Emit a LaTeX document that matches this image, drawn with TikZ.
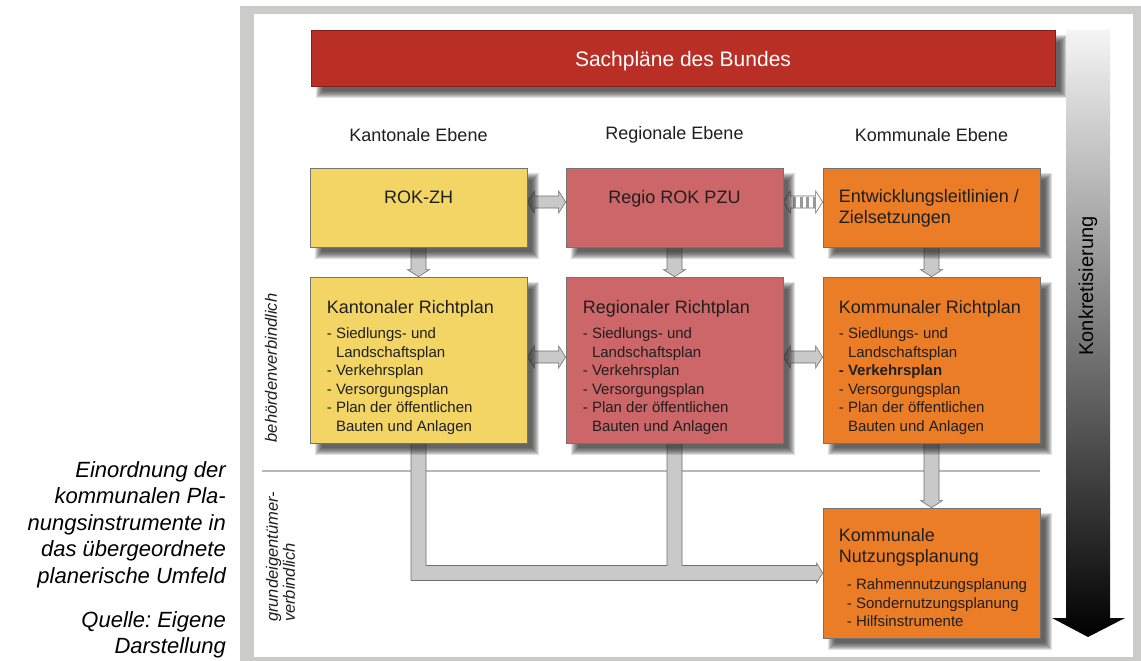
\documentclass[tikz,border=0pt]{standalone}
\usepackage{fontspec}
\setmainfont{Liberation Sans}
\frenchspacing
\usetikzlibrary{calc}
\definecolor{framegray}{HTML}{CBCBC9}
\definecolor{kyellow}{HTML}{F3D566}
\definecolor{kred}{HTML}{CC6668}
\definecolor{korange}{HTML}{EB7D26}
\definecolor{barred}{HTML}{B92E25}
\definecolor{agray}{HTML}{C9C9C9}
\definecolor{aline}{HTML}{6F6F6F}
\pgfdeclarelayer{back}
\pgfdeclarelayer{bg}
\pgfdeclarelayer{shad}
\pgfsetlayers{back,bg,shad,main}
\tikzset{
 box/.style={draw=black!55, line width=0.7pt, minimum width=217pt, inner sep=0pt},
 garrow/.style={fill=agray, draw=aline, line width=0.6pt, line join=miter},
 warrow/.style={fill=white, draw=aline, line width=0.6pt, line join=miter},
 shadowpiece/.style={fill=black!85, opacity=0.14},
 lbl/.style={inner sep=0pt, text=black!88},
 head/.style={lbl, font=\fontsize{18}{22}\selectfont},
 ttl/.style={lbl, font=\fontsize{18}{21}\selectfont, align=left},
 items/.style={lbl, font=\fontsize{15}{18.5}\selectfont, align=left},
}
\newcommand{\myvblock}[2]{%
 \path[garrow] let \p1=(#1.south), \p2=(#2.north) in
  (\x1-7.5pt,\y1) -- (\x1-7.5pt,\y2+7pt) -- (\x1-11pt,\y2+7pt) -- (\x1,\y2)
  -- (\x1+11pt,\y2+7pt) -- (\x1+7.5pt,\y2+7pt) -- (\x1+7.5pt,\y1) -- cycle;}
\newcommand{\myhblock}[4]{%
 \path[#4] let \p1=($(#1.east)+(0,#3)$), \p2=(#2.west) in
  (\x1,\y1) -- (\x1+7pt,\y1+11pt) -- (\x1+7pt,\y1+6pt) -- (\x2-7pt,\y1+6pt)
  -- (\x2-7pt,\y1+11pt) -- (\x2,\y1) -- (\x2-7pt,\y1-11pt) -- (\x2-7pt,\y1-6pt)
  -- (\x1+7pt,\y1-6pt) -- (\x1+7pt,\y1-11pt) -- cycle;}
\newcommand{\myshadow}[1]{%
 \foreach \r in {0,1,...,7}{%
  \fill[shadowpiece] let \p1=(#1.south west), \p2=(#1.north east) in
   (\x1+12pt-\r*1pt, \y1-5pt-\r*1pt) rectangle (\x2+5pt+\r*1pt, \y2-12pt+\r*1pt);
 }}
\begin{document}
\begin{tikzpicture}[x=1pt,y=-1pt]
\useasboundingbox (0,0) rectangle (1141,661);
\begin{pgfonlayer}{back}
\fill[framegray] (240,6) rectangle (1141,661);
\fill[white] (254,14) rectangle (1133,657);
\draw[black!28, line width=1.3pt] (262,471) -- (1040,471);
\end{pgfonlayer}

% top bar
\node[box, draw=barred!70!black, fill=barred, minimum width=744pt, minimum height=56pt] (bund) at (683,58) {};
\node[lbl, text=white, font=\fontsize{21}{25}\selectfont] (tbund) at ($(bund.center)+(0,3)$) {Sachpläne des Bundes};

% gradient arrow
\shade[top color=black!4, bottom color=black] (1066,30) -- (1110,30) -- (1110,618) -- (1125,618) -- (1088,637) -- (1052,618) -- (1066,618) -- cycle;
\node[lbl, text=black, rotate=90, font=\fontsize{20}{24}\selectfont] (konk) at (1088,286) {Konkretisierung};

% headings
\node[head] (hk) at (418.5,135) {Kantonale Ebene};
\node[head] (hr) at (674.5,135) {Regionale Ebene};
\node[head] (hc) at (931.5,135) {Kommunale Ebene};

% boxes
\node[box, fill=kyellow, minimum height=79pt] (rokzh) at (418.5,207.5) {};
\node[box, fill=kred, minimum height=79pt] (regio) at (674.5,207.5) {};
\node[box, fill=korange, minimum height=79pt] (entw) at (931.5,207.5) {};
\node[box, fill=kyellow, minimum height=166pt] (krp) at (418.5,360) {};
\node[box, fill=kred, minimum height=166pt] (rrp) at (674.5,360) {};
\node[box, fill=korange, minimum height=166pt] (kommrp) at (931.5,360) {};
\node[box, fill=korange, minimum height=130pt] (nutz) at (931.5,573) {};

% box texts
\node[head, anchor=base] (trokzh) at ($(rokzh.north)+(0,36)$) {ROK-ZH};
\node[head, anchor=base] (tregio) at ($(regio.north)+(0,36)$) {Regio ROK PZU};
\node[ttl, anchor=north west] (tentw) at ($(entw.north west)+(16,22)$) {Entwicklungsleitlinien /\\Zielsetzungen};

\node[head, anchor=base west] (tkrp) at ($(krp.north west)+(17,37)$) {Kantonaler Richtplan};
\node[items, anchor=north west] (ikrp) at ($(krp.north west)+(17,51)$) {- Siedlungs- und\\\phantom{-\ }Landschaftsplan\\- Verkehrsplan\\- Versorgungsplan\\- Plan der öffentlichen\\\phantom{-\ }Bauten und Anlagen};

\node[head, anchor=base west] (trrp) at ($(rrp.north west)+(17,37)$) {Regionaler Richtplan};
\node[items, anchor=north west] (irrp) at ($(rrp.north west)+(17,51)$) {- Siedlungs- und\\\phantom{-\ }Landschaftsplan\\- Verkehrsplan\\- Versorgungsplan\\- Plan der öffentlichen\\\phantom{-\ }Bauten und Anlagen};

\node[head, anchor=base west] (tkommrp) at ($(kommrp.north west)+(16,37)$) {Kommunaler Richtplan};
\node[items, anchor=north west] (ikommrp) at ($(kommrp.north west)+(16,51)$) {- Siedlungs- und\\\phantom{-\ }Landschaftsplan\\\textbf{- Verkehrsplan}\\- Versorgungsplan\\- Plan der öffentlichen\\\phantom{-\ }Bauten und Anlagen};

\node[ttl, anchor=north west] (tnutz) at ($(nutz.north west)+(16,21)$) {Kommunale\\Nutzungsplanung};
\node[items, anchor=north west] (inutz) at ($(nutz.north west)+(24,71)$) {- Rahmennutzungsplanung\\- Sondernutzungsplanung\\- Hilfsinstrumente};

% side labels
\node[lbl, rotate=90, font=\itshape\fontsize{16.5}{19}\selectfont] (behoerd) at (271,368) {behördenverbindlich};
\node[lbl, rotate=90, align=left, font=\itshape\fontsize{16.5}{17}\selectfont] (grund) at (280.5,557) {grundeigentümer-\\verbindlich};

% caption
\node[lbl, text=black, anchor=north east, align=right, font=\itshape\fontsize{22}{26.5}\selectfont] (cap1) at (226,461) {Einordnung der\\kommunalen Pla-\\nungsinstrumente in\\das übergeordnete\\planerische Umfeld};
\node[lbl, text=black, anchor=north east, align=right, font=\itshape\fontsize{22}{26.5}\selectfont] (cap2) at (226,611) {Quelle: Eigene\\Darstellung};

% shadows
\begin{pgfonlayer}{shad}
\myshadow{bund}
\myshadow{rokzh}
\myshadow{regio}
\myshadow{entw}
\myshadow{krp}
\myshadow{rrp}
\myshadow{kommrp}
\myshadow{nutz}
\end{pgfonlayer}

% connectors
\begin{pgfonlayer}{bg}
\myvblock{rokzh}{krp}
\myvblock{regio}{rrp}
\myvblock{entw}{kommrp}
\myvblock{kommrp}{nutz}
\myhblock{rokzh}{regio}{-5.5}{garrow}
\myhblock{krp}{rrp}{-3}{garrow}
\myhblock{rrp}{kommrp}{-3}{garrow}
\myhblock{regio}{entw}{-5.5}{warrow}
\foreach \dx in {10,16.5,23,29.5}{
 \fill[black!40] let \p1=($(regio.east)+(0,-5.5)$) in (\x1+\dx*1pt,\y1-5.5pt) rectangle (\x1+\dx*1pt+3pt,\y1+5.5pt);
}
\path[garrow] let \p1=(krp.south), \p2=(rrp.south), \p3=(nutz.west) in
 (\x1-7.5pt,\y1) -- (\x1-7.5pt,\y3-7.5pt) -- (\x3-6pt,\y3-7.5pt) -- (\x3-6pt,\y3-10pt)
 -- (\x3,\y3) -- (\x3-6pt,\y3+10pt) -- (\x3-6pt,\y3+7.5pt) -- (\x2+7.5pt,\y3+7.5pt)
 -- (\x2+7.5pt,\y2) -- (\x2-7.5pt,\y2) -- (\x2-7.5pt,\y3+7.5pt) -- (\x1+7.5pt,\y3+7.5pt)
 -- (\x1+7.5pt,\y1) -- cycle;
\end{pgfonlayer}
\end{tikzpicture}
\end{document}
